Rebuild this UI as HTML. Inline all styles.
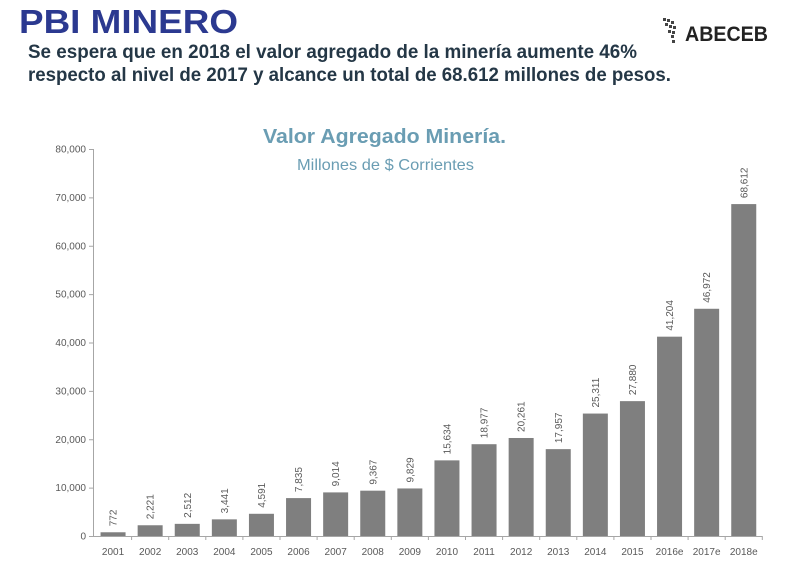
<!DOCTYPE html>
<html><head><meta charset="utf-8"><style>
body{margin:0;width:787px;height:582px;background:#fff;overflow:hidden;font-family:"Liberation Sans",sans-serif}
</style></head><body>
<svg width="787" height="582" xmlns="http://www.w3.org/2000/svg" font-family="Liberation Sans, sans-serif">
<text x="19" y="33" font-size="33" font-weight="bold" fill="#2b3990" textLength="219" lengthAdjust="spacingAndGlyphs">PBI MINERO</text>
<text x="28" y="58" font-size="19" font-weight="bold" fill="#243746" textLength="609" lengthAdjust="spacingAndGlyphs">Se espera que en 2018 el valor agregado de la minería aumente 46%</text>
<text x="28" y="81" font-size="19" font-weight="bold" fill="#243746" textLength="643" lengthAdjust="spacingAndGlyphs">respecto al nivel de 2017 y alcance  un total de 68.612 millones de pesos.</text>
<g fill="#444"><rect x="663" y="18" width="3" height="3"/><rect x="667" y="19" width="3" height="3"/><rect x="671" y="21" width="3" height="3"/><rect x="665" y="23" width="3" height="3"/><rect x="669" y="25" width="3" height="3"/><rect x="673" y="26" width="3" height="3"/><rect x="668" y="30" width="3" height="3"/><rect x="672" y="31" width="3" height="3"/><rect x="671" y="35" width="3" height="3"/><rect x="672" y="40" width="3" height="3"/></g>
<text x="685" y="41" font-size="21" font-weight="bold" fill="#222" textLength="83" lengthAdjust="spacingAndGlyphs">ABECEB</text>
<text x="263" y="143" font-size="20" font-weight="bold" fill="#6a9db3" textLength="243" lengthAdjust="spacingAndGlyphs">Valor Agregado Minería.</text>
<text x="297" y="170" font-size="16" fill="#6a9db3" textLength="177" lengthAdjust="spacingAndGlyphs">Millones de $ Corrientes</text>
<g stroke="#a6a6a6" stroke-width="1"><line x1="93.5" y1="149" x2="93.5" y2="536"/><line x1="93" y1="536.5" x2="762" y2="536.5"/></g>
<g font-size="10" fill="#595959" text-anchor="end" id="y"></g>
<g id="b"></g>
<script>
var ns="http://www.w3.org/2000/svg";
var y=document.getElementById('y');
for(var i=0;i<=8;i++){var py=536-i*48.375;
 var l=document.createElementNS(ns,'line');l.setAttribute('x1',89);l.setAttribute('x2',93);l.setAttribute('y1',py+.5);l.setAttribute('y2',py+.5);l.setAttribute('stroke','#a6a6a6');y.appendChild(l);
 var t=document.createElementNS(ns,'text');t.setAttribute('x',86);t.setAttribute('y',py+3.5);t.textContent=i==0?'0':(i*10)+',000';y.appendChild(t);}
var d=[772,2221,2512,3441,4591,7835,9014,9367,9829,15634,18977,20261,17957,25311,27880,41204,46972,68612];
var lab=['2001','2002','2003','2004','2005','2006','2007','2008','2009','2010','2011','2012','2013','2014','2015','2016e','2017e','2018e'];
var b=document.getElementById('b');var w=37.1;
d.forEach(function(v,i){var cx=94.5+w*(i+.5);var h=v*48.375/10000;
 var r=document.createElementNS(ns,'rect');r.setAttribute('x',cx-12.5);r.setAttribute('width',25);r.setAttribute('y',536-h);r.setAttribute('height',h);r.setAttribute('fill','#7f7f7f');b.appendChild(r);
 var tk=document.createElementNS(ns,'line');tk.setAttribute('x1',94.5+w*(i+1));tk.setAttribute('x2',94.5+w*(i+1));tk.setAttribute('y1',536);tk.setAttribute('y2',540);tk.setAttribute('stroke','#a6a6a6');b.appendChild(tk);
 var t=document.createElementNS(ns,'text');t.setAttribute('x',cx);t.setAttribute('y',555);t.setAttribute('font-size','10');t.setAttribute('fill','#595959');t.setAttribute('text-anchor','middle');t.textContent=lab[i];b.appendChild(t);
 var s=v.toLocaleString('en-US');var ty=536-h-6;
 var t2=document.createElementNS(ns,'text');t2.setAttribute('transform','translate('+(cx+3.5)+','+ty+') rotate(-90)');t2.setAttribute('font-size','10');t2.setAttribute('fill','#595959');t2.textContent=s;b.appendChild(t2);
});
</script>
</svg>
</body></html>
